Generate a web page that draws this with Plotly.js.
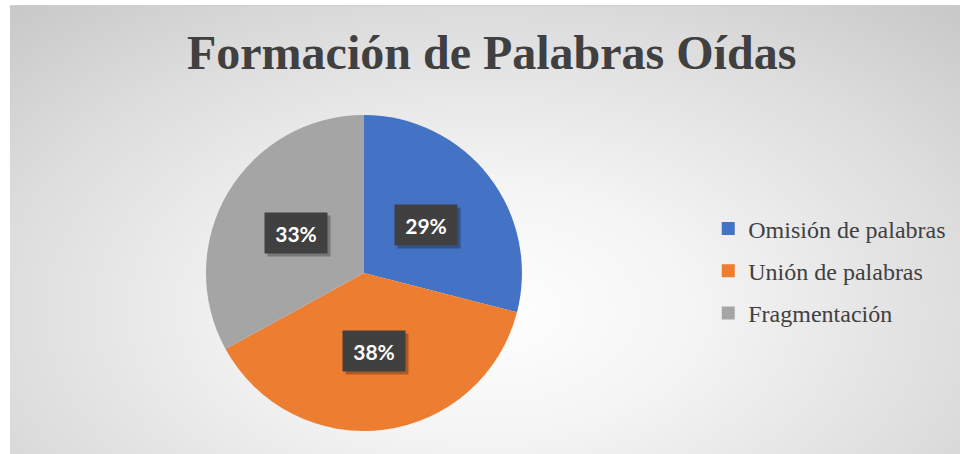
<!DOCTYPE html>
<html>
<head>
<meta charset="utf-8">
<script src="https://cdn.plot.ly/plotly-3.0.1.min.js"></script>
<style>
  html, body { margin: 0; padding: 0; background: #ffffff; }
  #wrap { position: relative; width: 960px; height: 454px; background: #ffffff; }
  #chart {
    position: absolute; left: 10px; top: 5px; width: 950px; height: 449px;
    border-top: 1px solid #d0d0d0;
    box-sizing: border-box;
    background: radial-gradient(ellipse 75% 95% at 50% 68%, #ffffff 0%, #f4f4f4 30%, #dcdcdc 70%, #c6c6c6 100%);
  }
</style>
</head>
<body>
<div id="wrap"><div id="chart"></div></div>
<script>
// ---- data ----
const categories = ["Omisión de palabras", "Unión de palabras", "Fragmentación"];
const values = [29, 38, 33];
const colors = ["#4472C4", "#ED7D31", "#A5A5A5"];
const chartTitle = "Formación de Palabras Oídas";

// ---- layout constants ----
const W = 950, H = 449;
const domX = [0.2063, 0.5389];
const domY = [0.0535, 0.7572];

// label positions derived from data (half radius along mid-angle, clockwise from 12 o'clock)
const total = values.reduce((a, b) => a + b, 0);
const cx = (domX[0] + domX[1]) / 2 * W;
const cy = (domY[0] + domY[1]) / 2 * H;
const R = Math.min((domX[1] - domX[0]) * W, (domY[1] - domY[0]) * H) / 2;
const annotations = [];
let cum = 0;
values.forEach((v, i) => {
  const mid = (cum + v / 2) / total * 2 * Math.PI;
  cum += v;
  const px = cx + Math.sin(mid) * R * 0.5;
  const py = cy + Math.cos(mid) * R * 0.5;
  const pct = Math.round(v / total * 100) + "%";
  const base = {
    xref: "paper", yref: "paper", x: px / W, y: py / H,
    xanchor: "center", yanchor: "middle", showarrow: false,
    width: 46, height: 24, borderpad: 8
  };
  // soft shadow box
  annotations.push(Object.assign({}, base, {
    text: " ",
    bgcolor: "rgba(0,0,0,0.28)", xshift: 3, yshift: -3,
    font: { family: "Lato, sans-serif", size: 21, color: "rgba(0,0,0,0)" }
  }));
  annotations.push(Object.assign({}, base, {
    text: pct,
    bgcolor: "#404040",
    font: { family: "Lato, sans-serif", size: 21, color: "#ffffff", weight: "bold" }
  }));
});

const traces = [{
  type: "pie",
  labels: categories,
  values: values,
  marker: { colors: colors, line: { width: 0 } },
  sort: false,
  direction: "clockwise",
  rotation: 0,
  textinfo: "none",
  hoverinfo: "label+percent",
  showlegend: false,
  domain: { x: domX, y: domY }
}];

// legend entries (one per category) so rows can be spaced like the original
categories.forEach((c, i) => {
  traces.push({
    type: "scatter", mode: "markers",
    x: [null], y: [null],
    name: c, legendgroup: "g" + i, showlegend: true,
    marker: { symbol: "square", size: 13, color: colors[i] },
    hoverinfo: "skip"
  });
});

const layout = {
  width: W, height: H,
  margin: { l: 0, r: 0, t: 0, b: 0 },
  paper_bgcolor: "rgba(0,0,0,0)",
  plot_bgcolor: "rgba(0,0,0,0)",
  xaxis: { visible: false, fixedrange: true },
  yaxis: { visible: false, fixedrange: true },
  title: {
    text: "<b>" + chartTitle + "</b>",
    font: { family: "Liberation Serif, Times New Roman, serif", size: 48, color: "#404040" },
    x: 0.507, xanchor: "center", y: 0.86, yanchor: "bottom"
  },
  showlegend: true,
  legend: {
    x: 0.735, xanchor: "left", y: 0.41, yanchor: "middle",
    font: { family: "Liberation Serif, Times New Roman, serif", size: 24, color: "#404040" },
    bgcolor: "rgba(0,0,0,0)",
    tracegroupgap: 8,
    itemclick: false
  },
  annotations: annotations
};

Plotly.newPlot("chart", traces, layout, { displayModeBar: false, staticPlot: true });
</script>
</body>
</html>
